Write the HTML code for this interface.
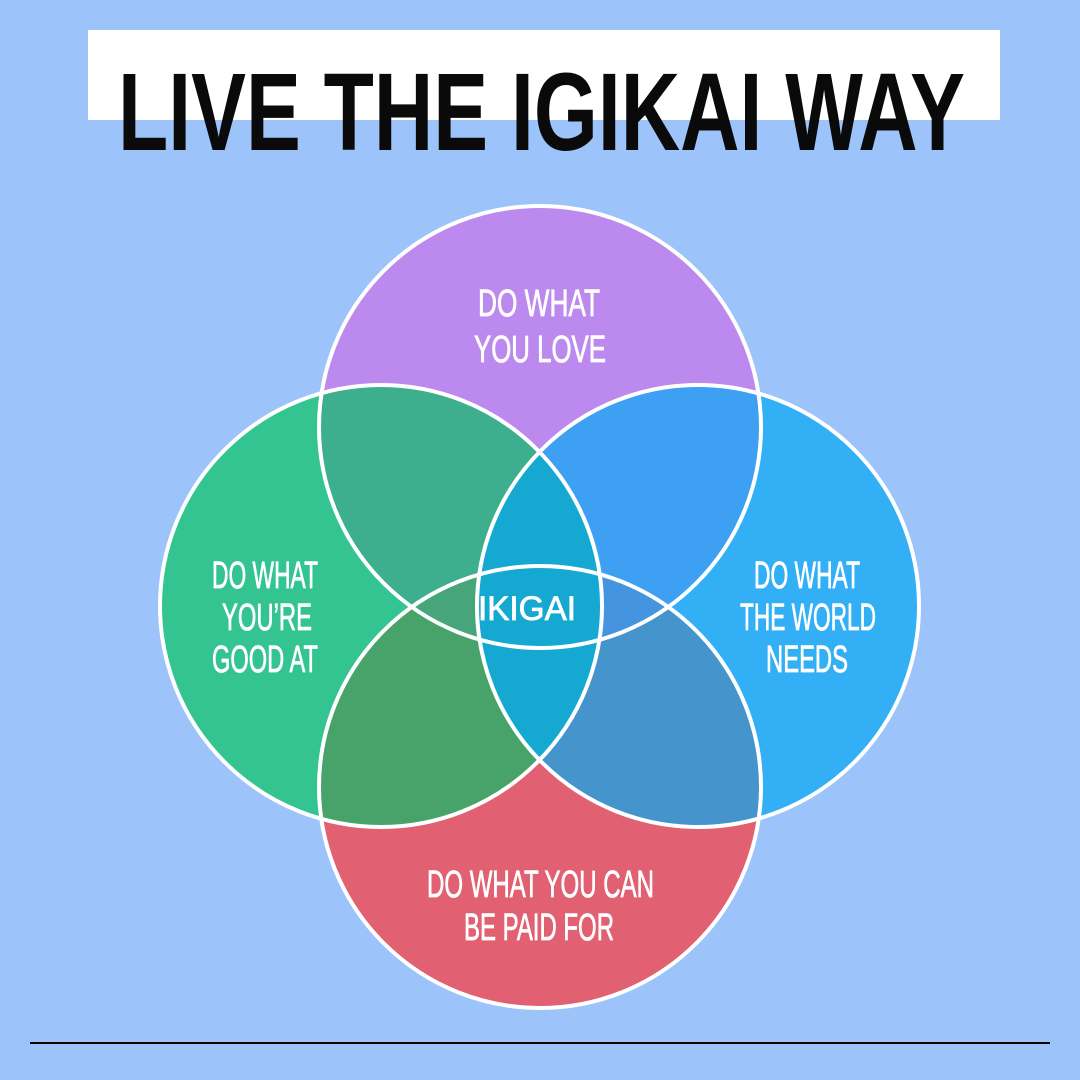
<!DOCTYPE html>
<html><head><meta charset="utf-8"><style>html,body{margin:0;padding:0;background:#9DC3FB}svg{display:block}</style></head>
<body>
<svg width="1080" height="1080" viewBox="0 0 1080 1080" xmlns="http://www.w3.org/2000/svg">
<defs>
<clipPath id="cT"><circle cx="540" cy="427" r="221"/></clipPath>
<clipPath id="cL"><circle cx="381" cy="606" r="221"/></clipPath>
<clipPath id="cR"><circle cx="698" cy="606" r="221"/></clipPath>
<clipPath id="cB"><circle cx="540" cy="787" r="221"/></clipPath>
</defs>
<rect width="1080" height="1080" fill="#9DC3FB"/>
<rect x="88" y="30" width="912" height="90" fill="#fff"/>
<text x="118" y="150" font-family="Liberation Sans, sans-serif" font-weight="bold" font-size="110" textLength="847" lengthAdjust="spacingAndGlyphs" fill="#0a0a0a">LIVE THE IGIKAI WAY</text>

<circle cx="540" cy="427" r="221" fill="#BC8AEE"/>
<circle cx="381" cy="606" r="221" fill="#33C491"/>
<circle cx="698" cy="606" r="221" fill="#33B0F5"/>
<circle cx="540" cy="787" r="221" fill="#E16071"/>
<g clip-path="url(#cT)"><circle cx="381" cy="606" r="221" fill="#3DAF8F"/><circle cx="698" cy="606" r="221" fill="#3DA0F2"/></g>
<g clip-path="url(#cB)"><circle cx="381" cy="606" r="221" fill="#47A36A"/><circle cx="698" cy="606" r="221" fill="#4594CC"/></g>
<g clip-path="url(#cB)"><g clip-path="url(#cT)"><circle cx="381" cy="606" r="221" fill="#46A57A"/><circle cx="698" cy="606" r="221" fill="#4594E0"/></g></g>
<g clip-path="url(#cL)"><circle cx="698" cy="606" r="221" fill="#15A9D2"/></g>
<g fill="none" stroke="#fff" stroke-width="4">
<circle cx="540" cy="427" r="221"/><circle cx="381" cy="606" r="221"/><circle cx="698" cy="606" r="221"/><circle cx="540" cy="787" r="221"/>
</g>
<g font-family="Liberation Sans, sans-serif" font-size="38" fill="#fff" stroke="#fff" stroke-width="0.8">
<text x="478" y="316" textLength="122" lengthAdjust="spacingAndGlyphs">DO WHAT</text>
<text x="474" y="362" textLength="132" lengthAdjust="spacingAndGlyphs">YOU LOVE</text>
<text x="212" y="588" textLength="106" lengthAdjust="spacingAndGlyphs">DO WHAT</text>
<text x="222" y="630" textLength="90" lengthAdjust="spacingAndGlyphs">YOU’RE</text>
<text x="212" y="672" textLength="106" lengthAdjust="spacingAndGlyphs">GOOD AT</text>
<text x="754" y="588" textLength="106" lengthAdjust="spacingAndGlyphs">DO WHAT</text>
<text x="740" y="630" textLength="136" lengthAdjust="spacingAndGlyphs">THE WORLD</text>
<text x="766" y="672" textLength="82" lengthAdjust="spacingAndGlyphs">NEEDS</text>
<text x="427" y="897" textLength="227" lengthAdjust="spacingAndGlyphs">DO WHAT YOU CAN</text>
<text x="464" y="940" textLength="150" lengthAdjust="spacingAndGlyphs">BE PAID FOR</text>
<text x="478" y="620" font-size="34" textLength="98" lengthAdjust="spacingAndGlyphs">IKIGAI</text>
</g>
<rect x="30" y="1042" width="1020" height="2" fill="#000"/>
</svg>
</body></html>
